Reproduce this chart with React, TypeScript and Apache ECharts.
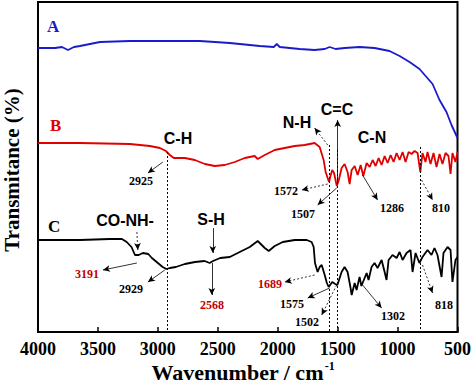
import React, { useEffect, useRef } from "react";
import * as echarts from "echarts";

// Wavenumber (cm^-1) and relative transmittance (arbitrary units)
const seriesA: [number, number][] = [
  [4000, 284], [3858, 284], [3800, 285], [3750, 282], [3700, 285], [3650, 286], [3483, 290],
  [3233, 291], [2983, 291], [2650, 291], [2525, 290], [2400, 289], [2150, 286], [2033, 285],
  [2008, 288], [1983, 285], [1817, 283], [1692, 282], [1608, 283], [1567, 285], [1517, 283],
  [1442, 284], [1317, 285], [1192, 284], [1067, 281], [983, 276], [900, 270], [817, 263],
  [708, 248], [650, 232], [592, 220], [550, 207], [500, 194],
];

const seriesB: [number, number][] = [
  [4000, 189], [3650, 189], [3233, 188], [3067, 186], [2983, 184], [2933, 181], [2900, 177],
  [2867, 174], [2775, 174], [2692, 172], [2608, 168], [2525, 166], [2442, 167], [2358, 170],
  [2275, 174], [2192, 176], [2167, 173], [2108, 177], [2025, 182], [1942, 184], [1858, 186],
  [1775, 187], [1692, 189], [1650, 185], [1617, 172], [1600, 160], [1572, 150], [1560, 156],
  [1545, 162], [1530, 159], [1507, 146], [1490, 152], [1467, 164], [1442, 168], [1417, 160],
  [1400, 148], [1383, 162], [1358, 166], [1333, 157], [1308, 167], [1286, 156], [1258, 169],
  [1233, 165], [1208, 172], [1183, 166], [1158, 174], [1133, 167], [1108, 176], [1083, 169],
  [1058, 177], [1033, 170], [1008, 179], [983, 172], [958, 180], [933, 170], [908, 180],
  [883, 178], [858, 181], [833, 179], [820, 168], [810, 160], [792, 179], [767, 170],
  [750, 180], [725, 168], [700, 179], [675, 165], [650, 178], [625, 168], [600, 179],
  [575, 176], [558, 158], [542, 179], [517, 170], [500, 180],
];

const seriesC: [number, number][] = [
  [4000, 92], [3800, 92], [3650, 92], [3400, 93], [3300, 93], [3260, 90], [3220, 85],
  [3191, 77], [3160, 77], [3125, 79], [3080, 78], [3050, 74], [3000, 69], [2960, 65],
  [2929, 63], [2900, 64], [2850, 65], [2775, 68], [2690, 70], [2610, 71], [2568, 69],
  [2540, 71], [2480, 74], [2400, 75], [2317, 80], [2233, 85], [2167, 91], [2108, 84],
  [2075, 81], [2025, 86], [1958, 90], [1858, 92], [1758, 92], [1717, 90], [1700, 85],
  [1689, 69], [1667, 60], [1650, 65], [1633, 67], [1608, 57], [1590, 49], [1575, 45],
  [1545, 50], [1520, 48], [1502, 47], [1467, 60], [1442, 65], [1417, 60], [1392, 44],
  [1383, 37], [1358, 49], [1342, 42], [1317, 55], [1302, 46], [1258, 59], [1242, 52],
  [1217, 65], [1192, 69], [1167, 64], [1133, 72], [1108, 60], [1092, 52], [1075, 72],
  [1042, 77], [1008, 74], [983, 80], [958, 72], [925, 79], [892, 82], [875, 60], [850, 79],
  [818, 69], [792, 75], [750, 82], [717, 77], [692, 84], [667, 77], [633, 55], [617, 79],
  [583, 85], [558, 82], [542, 50], [517, 72], [500, 75],
];

const xTicks = [4000, 3500, 3000, 2500, 2000, 1500, 1000, 500];

// dotted guide lines: [wavenumber, top value]
const guides: [number, number][] = [
  [2925, 180], [1572, 187], [1507, 182], [810, 185],
];

// arrows: [from wn, from v, to wn, to v, dashed]
const arrows: [number, number, number, number, boolean][] = [
  [2958, 170, 3083, 159, false],
  [1583, 187, 1692, 204, true],
  [1500, 150, 1500, 212, false],
  [1583, 148, 1800, 142, true],
  [1508, 144, 1667, 127, false],
  [1292, 157, 1167, 132, false],
  [800, 152, 708, 132, true],
  [3175, 100, 3167, 82, true],
  [3175, 69, 3458, 62, false],
  [2942, 62, 3083, 50, false],
  [2542, 104, 2542, 79, false],
  [2550, 69, 2550, 37, false],
  [1692, 57, 1942, 50, true],
  [1567, 44, 1750, 34, false],
  [1508, 47, 1633, 17, true],
  [1292, 47, 1133, 24, false],
  [792, 67, 708, 39, true],
];

// annotation texts: [text, x px, y px, colour]
const groupLabels: [string, number, number, string][] = [
  ["A", 47, 26, "#1a1acc"], ["B", 50, 125, "#e00000"], ["C", 48, 226, "#000"],
];
const bondLabels: [string, number, number][] = [
  ["C-H", 178, 138], ["N-H", 297, 122], ["C=C", 337, 109], ["C-N", 372, 137],
  ["CO-NH-", 125, 220], ["S-H", 211, 219],
];
const peakLabels: [string, number, number, string][] = [
  ["2925", 141, 181, "#000"], ["1572", 286, 191, "#000"], ["1507", 303, 214, "#000"],
  ["1286", 392, 208, "#000"], ["810", 441, 208, "#000"], ["3191", 87, 274, "#c00000"],
  ["2929", 131, 289, "#000"], ["2568", 212, 305, "#c00000"], ["1689", 270, 284, "#c00000"],
  ["1575", 292, 304, "#000"], ["1502", 307, 322, "#000"], ["1302", 393, 316, "#000"],
  ["818", 444, 305, "#000"],
];

const serif = "'Liberation Serif', 'DejaVu Serif', serif";
const sans = "'Liberation Sans', Arial, sans-serif";

export default function App() {
  const ref = useRef<HTMLDivElement>(null);
  useEffect(() => {
    if (!ref.current) return;
    const chart = echarts.init(ref.current, undefined, { renderer: "svg" });
    const markLineData: any[] = [];
    guides.forEach(([wn, top]) => {
      markLineData.push([
        { coord: [wn, top], symbol: "none", lineStyle: { type: [2, 2], width: 1, color: "#000" } },
        { coord: [wn, 0], symbol: "none" },
      ]);
    });
    arrows.forEach(([x1, y1, x2, y2, dashed]) => {
      markLineData.push([
        { coord: [x1, y1], symbol: "none", lineStyle: { type: dashed ? [2, 2] : "solid", width: 0.8, color: "#000" } },
        { coord: [x2, y2], symbol: "arrow", symbolSize: [5, 7] },
      ]);
    });
    const graphics: any[] = [];
    groupLabels.forEach(([t, x, y, c]) =>
      graphics.push({ type: "text", x, y, style: { text: t, fill: c, font: `bold 17px ${serif}`, align: "left", verticalAlign: "middle" } })
    );
    bondLabels.forEach(([t, x, y]) =>
      graphics.push({ type: "text", x, y, style: { text: t, fill: "#000", font: `bold 16px ${sans}`, align: "center", verticalAlign: "middle" } })
    );
    peakLabels.forEach(([t, x, y, c]) =>
      graphics.push({ type: "text", x, y, style: { text: t, fill: c, font: `bold 12px ${serif}`, align: "center", verticalAlign: "middle" } })
    );
    graphics.push({
      type: "text", x: 12, y: 170, rotation: Math.PI / 2,
      style: { text: "Transmitance (%)", fill: "#000", font: `bold 21px ${serif}`, align: "center", verticalAlign: "middle" },
    });
    graphics.push({
      type: "text", x: 243, y: 372,
      style: {
        text: "{a|Wavenumber / cm}{s|-1}",
        align: "center", verticalAlign: "middle",
        rich: {
          a: { font: `bold 22px ${serif}`, fill: "#000" },
          s: { font: `bold 12px ${serif}`, fill: "#000", verticalAlign: "top", padding: [0, 0, 12, 1] },
        },
      },
    });

    chart.setOption({
      animation: false,
      grid: { left: 38, right: 16, top: 2, bottom: 59, show: true, borderColor: "#000", borderWidth: 2 },
      xAxis: {
        type: "value", inverse: true, min: 500, max: 4000, interval: 500,
        axisLine: { lineStyle: { color: "#000", width: 2 } },
        axisTick: { inside: true, length: 5, lineStyle: { color: "#000", width: 1.5 } },
        axisLabel: {
          color: "#000", fontFamily: serif, fontWeight: "bold", fontSize: 18, margin: 8,
          customValues: xTicks,
          formatter: (v: number) => String(v),
        },
        splitLine: { show: false },
      },
      yAxis: {
        type: "value", min: 0, max: 330,
        axisLine: { show: true, lineStyle: { color: "#000", width: 2 } },
        axisTick: { show: false }, axisLabel: { show: false }, splitLine: { show: false },
      },
      series: [
        { type: "line", data: seriesA, showSymbol: false, lineStyle: { color: "#1a1acc", width: 1.8 }, z: 3 },
        { type: "line", data: seriesB, showSymbol: false, lineStyle: { color: "#e00000", width: 1.8 }, z: 3 },
        {
          type: "line", data: seriesC, showSymbol: false, lineStyle: { color: "#000", width: 1.8 }, z: 3,
          markLine: { silent: true, label: { show: false }, data: markLineData },
        },
      ],
      graphic: graphics,
    });
    return () => chart.dispose();
  }, []);
  return <div ref={ref} style={{ width: 474, height: 391, position: "absolute", left: 0, top: 0 }} />;
}
